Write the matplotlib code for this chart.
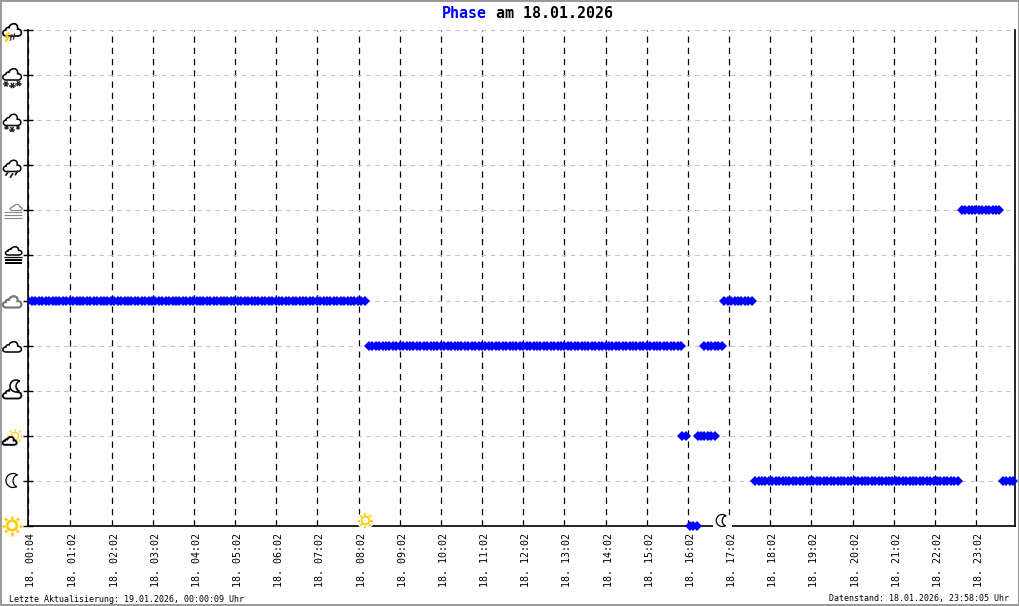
import numpy as np
import matplotlib
matplotlib.use("Agg")
import matplotlib.pyplot as plt
from matplotlib.path import Path
from matplotlib.patches import PathPatch, Circle, Rectangle

# runs of the same phase: level, first minute of the day, number of 5 min samples
run_phase = [5, 4, 2, 0, 2, 4, 5, 1, 7, 1]
run_start = [1, 497, 954, 965, 976, 986, 1015, 1060, 1361, 1421]
run_count = [99, 92, 2, 3, 6, 6, 9, 60, 12, 4]

tick_minutes = [1] + [62 + 60 * h for h in range(23)]
tick_labels = ["18. 00:04"] + ["18. {:02d}:02".format(h) for h in range(1, 24)]

sunrise_minute = 492
sunset_minute = 1012

title_blue = "Phase"
title_black = "am 18.01.2026"
footer_left = "Letzte Aktualisierung: 19.01.2026, 00:00:09 Uhr"
footer_right = "Datenstand: 18.01.2026, 23:58:05 Uhr"

YELLOW = "#ffcc00"
MONO = "DejaVu Sans Mono"

fig = plt.figure(figsize=(10.2, 6.06), dpi=100)
ax = fig.add_axes([28.5 / 1020, 80 / 606, 987 / 1020, 496 / 606])
ax.set_xlim(1.1, 1439.4)
ax.set_ylim(0, 11)

ax.spines["top"].set_visible(False)
for s in ["left", "right", "bottom"]:
    ax.spines[s].set_linewidth(1.2)

ax.set_yticks(range(12))
ax.set_yticklabels([])
ax.tick_params(axis="y", direction="inout", length=6.5, width=1)
ax.set_xticks(tick_minutes)
ax.set_xticklabels([])
ax.tick_params(axis="x", length=0)

ax.grid(axis="y", color="#c4c4c4", lw=0.8, dashes=(4, 4))
ax.grid(axis="x", color="black", lw=0.9, dashes=(5, 4))
ax.set_axisbelow(True)

for p, st, n in zip(run_phase, run_start, run_count):
    t = st + 5 * np.arange(n)
    # the run at the very start is cut by the axis
    ax.plot(t, [p] * n, ls="none", marker="D", ms=4.9, mew=0, color="#0000ff",
            clip_on=(st == 1), zorder=5)

for m, lab in zip(tick_minutes, tick_labels):
    ax.annotate(lab, (m, 0), xytext=(3, -7), textcoords="offset pixels",
                rotation=90, ha="center", va="top", family=MONO, fontsize=7.2)

# overlay in image pixels for the icons and the texts
ov = fig.add_axes([0, 0, 1, 1], zorder=10)
ov.set_xlim(0, 1020)
ov.set_ylim(606, 0)
ov.axis("off")
ov.patch.set_alpha(0)

def cloud(cx, cy, w, h, color="black", lw=1.1, face="white"):
    # outline from the bottom left, clockwise over the lobes
    pts = [(-0.7, 1.0), (-1.2, 1.0), (-1.2, 0.05), (-0.72, 0.0),
           (-0.75, -0.4), (-0.45, -0.5), (-0.35, -0.4),
           (-0.2, -1.3), (0.8, -1.3), (0.65, -0.15),
           (1.25, -0.2), (1.25, 1.0), (0.7, 1.0), (-0.7, 1.0)]
    codes = [Path.MOVETO] + [Path.CURVE4] * 12 + [Path.LINETO]
    verts = [(cx + x * w, cy + y * h) for x, y in pts]
    ov.add_patch(PathPatch(Path(verts, codes), fc=face, ec=color, lw=lw, zorder=3))

def sun(cx, cy, r, ray0, ray1, lw=1.3, bg=False):
    if bg:
        ov.add_patch(Circle((cx, cy), ray1 + 1, fc="white", ec="none", zorder=2))
    ov.add_patch(Circle((cx, cy), r, fc="white", ec=YELLOW, lw=lw, zorder=3))
    for a in np.arange(0, 2 * np.pi, np.pi / 4):
        ov.plot([cx + ray0 * np.cos(a), cx + ray1 * np.cos(a)],
                [cy + ray0 * np.sin(a), cy + ray1 * np.sin(a)],
                color=YELLOW, lw=lw, solid_capstyle="butt", zorder=3)

def moon(cx, cy, r, lw=1.0, bg=False):
    if bg:
        ov.add_patch(Rectangle((cx - r - 3, cy - 4), 2 * r + 7, 11, fc="white", ec="none", zorder=2))
    a = np.linspace(np.radians(60), np.radians(310), 40)
    x1 = cx + r * np.cos(a)
    y1 = cy + r * np.sin(a)
    b = np.linspace(np.radians(235), np.radians(115), 30)
    x2 = cx + r * 0.95 + 0.95 * r * np.cos(b)
    y2 = cy + r * 0.05 + 0.95 * r * np.sin(b)
    ov.fill(np.r_[x1, x2], np.r_[y1, y2], fc="white", ec="black", lw=lw, zorder=4)

def star(x, y, s=1.7, color="#222222"):
    for a in [0, 60, 120]:
        r = np.radians(a)
        ov.plot([x - s * np.cos(r), x + s * np.cos(r)], [y - s * np.sin(r), y + s * np.sin(r)],
                color=color, lw=1.1, zorder=3)

def bars(x0, x1, ys, color, lw):
    for y in ys:
        ov.plot([x0, x1], [y, y], color=color, lw=lw, solid_capstyle="butt", zorder=3)

# weather icons on the axis, from bright to thunderstorm
sun(12, 525.5, 4.8, 6.8, 10, lw=1.9)
moon(13, 480.5, 7, lw=0.9)
sun(15, 436, 3.5, 5, 7.5, lw=0.9)
cloud(9.5, 441, 6.5, 3.8, lw=1.4)
moon(16, 386, 6, lw=1.1)
cloud(12, 393, 8.5, 5.5, lw=1.3)
cloud(12, 347, 8.5, 5, lw=1.1)
cloud(12, 302, 8.5, 5.5, color="#777777", lw=1.6)
cloud(13.5, 251, 7.5, 4, lw=1.1)
bars(4, 22, [256.5], "black", 0.9)
bars(5, 22, [259.8, 263], "black", 1.4)
cloud(16, 207.5, 5.5, 3, color="#888888", lw=0.9)
bars(4, 22, [211.5, 215, 218], "#888888", 0.8)
cloud(12, 166, 8, 5.5, lw=1.1)
for x, y in [(7, 173.5), (11.5, 175.5), (16.5, 173)]:
    ov.plot([x - 1, x + 1], [y + 1.5, y - 1.5], color="#222222", lw=1.3, zorder=3)
cloud(12, 120, 8, 5.5, lw=1.1)
for x, y, s in [(6.5, 127.5, 1.3), (12, 129.5, 2.2), (18, 127.5, 1.3)]:
    star(x, y, s)
cloud(12, 74.5, 8.5, 5.5, lw=1.1)
for x, y, s in [(6, 84, 2.2), (12.5, 85.5, 2.2), (18.5, 83.5, 2.2)]:
    star(x, y, s)
cloud(12, 30, 8.5, 6, lw=1.2)
ov.plot([8.5, 6, 8.5, 6], [33, 37, 37, 41], color=YELLOW, lw=1.4, zorder=4)
ov.plot([11.5, 10.5], [35, 40], color="#333333", lw=1.0, zorder=4)
ov.plot([14.5, 13.5], [34, 39], color="#333333", lw=1.0, zorder=4)

# sunrise and sunset on the time axis
sx = ax.transData.transform((sunrise_minute, 0))[0] * 1020 / fig.bbox.width
mx = ax.transData.transform((sunset_minute, 0))[0] * 1020 / fig.bbox.width
sun(sx, 520.5, 3.8, 5, 7.5, lw=1.3, bg=True)
moon(mx, 520.5, 6, lw=0.9, bg=True)

ov.text(442, 13.5, title_blue, color="#0000ff", family=MONO, weight="bold", fontsize=10.8, ha="left", va="center")
ov.text(496.5, 13.5, title_black, color="black", family=MONO, weight="bold", fontsize=10.8, ha="left", va="center")
ov.text(9, 599, footer_left, family=MONO, fontsize=6, ha="left", va="center")
ov.text(1009, 599, footer_right, family=MONO, fontsize=6, ha="right", va="center")

# grey frame of the image
ov.add_patch(Rectangle((0.5, 0.5), 1018.5, 604.5, fc="none", ec="#999999", lw=1.4, clip_on=False))

fig.savefig("out.png", dpi=100)
